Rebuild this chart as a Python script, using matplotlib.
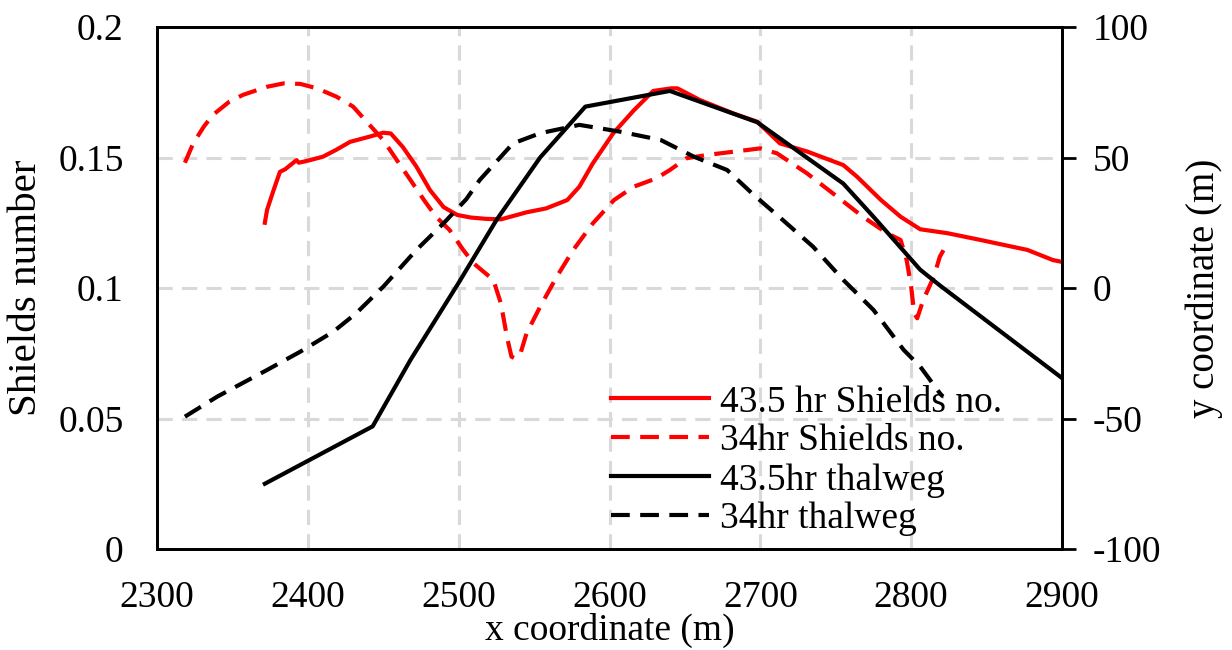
import matplotlib
matplotlib.use("Agg")
import matplotlib.pyplot as plt
from matplotlib.lines import Line2D

# 43.5 hr Shields number (left axis)
x_sh435 = [2371.5, 2373, 2377, 2381.5, 2385, 2392.5, 2394, 2398, 2401.5, 2410, 2419, 2428, 2441, 2450, 2455,
           2463, 2472, 2481, 2490, 2499, 2508, 2518, 2528, 2545, 2558, 2572, 2580, 2589, 2602.5, 2616, 2629,
           2641, 2645, 2660, 2682, 2698, 2713, 2731, 2755, 2764, 2780, 2793, 2806, 2824, 2846, 2877, 2894, 2900]
y_sh435 = [0.125, 0.130, 0.137, 0.1445, 0.1455, 0.149, 0.148, 0.1485, 0.149, 0.1503, 0.153, 0.156, 0.158,
           0.1595, 0.1592, 0.154, 0.1465, 0.1375, 0.131, 0.128, 0.127, 0.1265, 0.1263, 0.129, 0.1305, 0.1337,
           0.1388, 0.1478, 0.1593, 0.168, 0.1755, 0.1765, 0.1765, 0.172, 0.1669, 0.1637, 0.1554, 0.1523,
           0.1471, 0.1427, 0.1337, 0.1273, 0.1225, 0.121, 0.1184, 0.1146, 0.1107, 0.110]

# 34 hr Shields number (left axis)
x_sh34 = [2318.5, 2324, 2331, 2337, 2348, 2357, 2373, 2384, 2395, 2406, 2419, 2430, 2439, 2450, 2459, 2468,
          2477, 2485, 2494, 2503, 2510, 2523, 2528, 2532, 2535, 2537.5, 2541, 2545, 2554, 2565, 2576, 2589,
          2603, 2616, 2631, 2640, 2651, 2665, 2682, 2700, 2711, 2731, 2748, 2768, 2784, 2793, 2797, 2800,
          2802, 2804, 2808, 2815, 2819, 2824]
y_sh34 = [0.148, 0.1554, 0.1618, 0.1663, 0.1714, 0.174, 0.1771, 0.1784, 0.1782, 0.1765, 0.1733, 0.1695,
          0.1637, 0.1567, 0.149, 0.1414, 0.1337, 0.1273, 0.1222, 0.1146, 0.1094, 0.1031, 0.0941, 0.0813,
          0.0737, 0.073, 0.075, 0.0826, 0.0928, 0.1043, 0.1146, 0.1248, 0.1337, 0.1388, 0.142, 0.1452,
          0.1497, 0.151, 0.1522, 0.1535, 0.1516, 0.1439, 0.1363, 0.1273, 0.121, 0.1184, 0.1107, 0.1005,
          0.0903, 0.0884, 0.0954, 0.1043, 0.112, 0.1171]

# 43.5 hr thalweg (right axis)
x_th435 = [2371.5, 2443, 2468, 2500, 2525, 2554, 2584, 2640, 2698, 2755, 2775, 2806, 2819, 2900]
y_th435 = [-75, -53, -27.6, 2, 26, 50, 69.5, 75.5, 63.5, 40, 27.3, 7, 1, -34.5]

# 34 hr thalweg (right axis)
x_th34 = [2318.5, 2340, 2373, 2395, 2417, 2432, 2450, 2472, 2490, 2505, 2514, 2536, 2554, 2580, 2607, 2634,
          2656, 2678, 2695, 2715, 2735, 2755, 2775, 2795, 2806, 2819, 2821]
y_th34 = [-49.3, -41.6, -31.4, -24.4, -16.7, -9.7, 0.5, 14.6, 24.8, 34, 41.4, 55.4, 59.3, 62.5, 59.9, 56.7,
          50.3, 45.2, 36, 26, 15.8, 3.1, -8.4, -23.7, -30.1, -40.3, -41.6]

x_ticks = [2300, 2400, 2500, 2600, 2700, 2800, 2900]
left_ticks = [0, 0.05, 0.1, 0.15, 0.2]
left_ticklabels = ["0", "0.05", "0.1", "0.15", "0.2"]
right_ticks = [-100, -50, 0, 50, 100]
labels = ["43.5 hr Shields no.", "34hr Shields no.", "43.5hr thalweg", "34hr thalweg"]

plt.rcParams['font.family'] = ['Liberation Serif', 'DejaVu Serif']
plt.rcParams['axes.unicode_minus'] = False
FS = 27

fig = plt.figure(figsize=(12.32, 6.5), dpi=100)
ax = fig.add_axes([157/1232, 101/650, 905/1232, 522/650])
ax2 = ax.twinx()

lw = 3
dash = (4.5, 2.5)
ax.plot(x_sh435, y_sh435, color='#ff0000', lw=lw, zorder=3)
ax.plot(x_sh34, y_sh34, color='#ff0000', lw=lw, dashes=dash, zorder=3)
ax2.plot(x_th435, y_th435, color='black', lw=lw)
ax2.plot(x_th34, y_th34, color='black', lw=lw, dashes=dash)

ax.set_xlim(2300, 2900)
ax.set_ylim(0, 0.2)
ax2.set_ylim(-100, 100)
ax.set_xticks(x_ticks)
ax.set_yticks(left_ticks)
ax.set_yticklabels(left_ticklabels)
ax2.set_yticks(right_ticks)

ax.grid(True, color='#d9d9d9', lw=2.2, linestyle=(0, (5, 3)))
ax.set_axisbelow(True)

ax.tick_params(axis='both', length=0, labelsize=FS)
ax.tick_params(axis='x', pad=23)
ax.tick_params(axis='y', pad=24)
ax2.tick_params(axis='y', length=10, width=2, direction='out', labelsize=FS, pad=12)

for a in (ax, ax2):
    for s in a.spines.values():
        s.set_linewidth(2)
        s.set_color('black')

ax.set_xlabel("x coordinate (m)", fontsize=FS)
ax.set_ylabel("Shields number", fontsize=29.5)
ax2.set_ylabel("y coordinate (m)", fontsize=28)
ax.xaxis.set_label_coords(0.5, -0.122)
ax.yaxis.set_label_coords(-0.124, 0.5)
ax2.yaxis.set_label_coords(1.136, 0.5)

handles = [Line2D([], [], color='#ff0000', lw=lw),
           Line2D([], [], color='#ff0000', lw=lw, dashes=dash),
           Line2D([], [], color='black', lw=lw),
           Line2D([], [], color='black', lw=lw, dashes=dash)]
ax2.legend(handles, labels, loc='upper left', bbox_to_anchor=(611/1232, 1 - 385/650),
           bbox_transform=fig.transFigure, frameon=False, fontsize=FS,
           handlelength=2.6, handletextpad=0.3, labelspacing=0.12, borderpad=0, borderaxespad=0)

fig.savefig("out.png", dpi=100)
